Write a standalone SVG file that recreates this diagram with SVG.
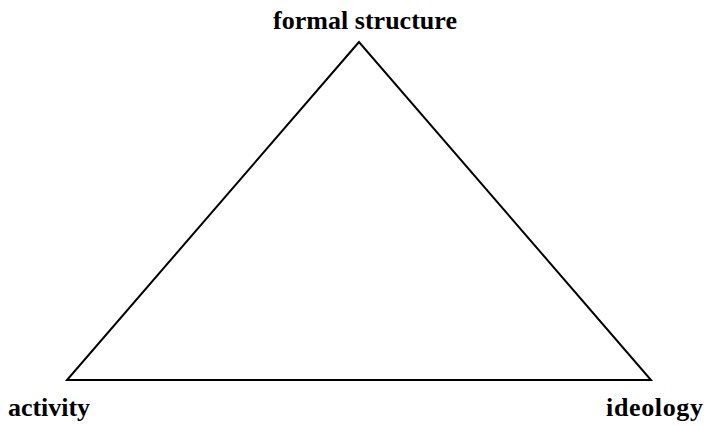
<svg xmlns="http://www.w3.org/2000/svg" width="708" height="425" viewBox="0 0 708 425">
<style>
.lbl{font-family:"Liberation Serif","Times New Roman",serif;font-weight:bold;font-size:26px;fill:#000}
.edge{fill:none;stroke:#000;stroke-width:2}
</style>
<rect width="708" height="425" fill="#fff"/>
<g id="connectors">
<path class="edge" d="M359,42 L67,380 L651,380 Z" stroke-linejoin="miter"/>
</g>
<g id="node-formal-structure"><text class="lbl" x="365" y="29" text-anchor="middle" textLength="184" lengthAdjust="spacing">formal structure</text></g>
<g id="node-activity"><text class="lbl" x="8" y="416" textLength="82" lengthAdjust="spacing">activity</text></g>
<g id="node-ideology"><text class="lbl" x="606" y="416" textLength="97" lengthAdjust="spacing">ideology</text></g>
</svg>
